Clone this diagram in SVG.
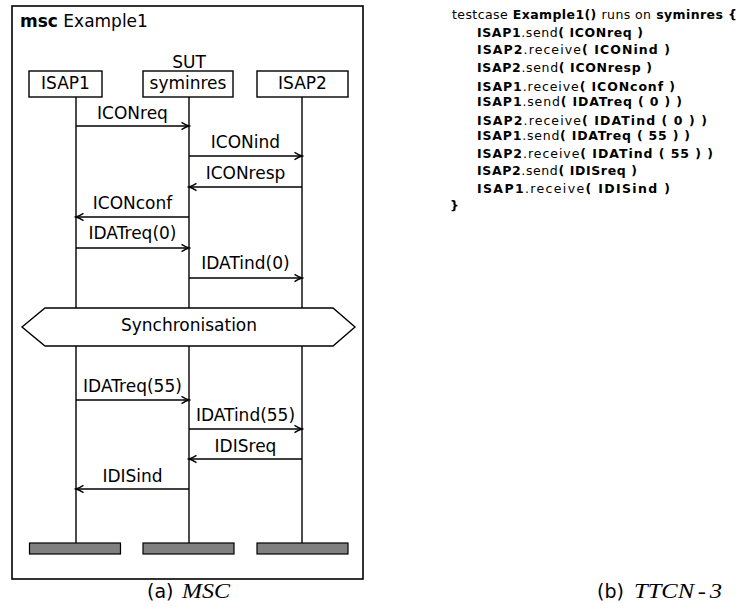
<svg xmlns="http://www.w3.org/2000/svg" width="739" height="614" viewBox="0 0 739 614">
<style>
.lbl{font-family:"DejaVu Sans",sans-serif;font-size:17px;fill:#000}
.mid{text-anchor:middle}
.ln{stroke:#000;stroke-width:1.4;fill:none}
.box{stroke:#000;stroke-width:1.4;fill:#fff}
.bar{stroke:#000;stroke-width:1.2;fill:#808080}
.msg{stroke:#000;stroke-width:1.3;fill:none;marker-end:url(#arr)}
.tt{font-family:"DejaVu Sans",sans-serif;font-size:12.5px;font-weight:bold;fill:#000}
.n{font-weight:normal}
.cap{font-family:"DejaVu Sans",sans-serif;font-size:19px;fill:#000}
.math{font-family:"Liberation Serif",serif;font-style:italic;font-size:20px;fill:#000}
</style>
<defs>
<marker id="arr" markerUnits="userSpaceOnUse" markerWidth="12" markerHeight="10" viewBox="-9 -5 10 10" refX="0" refY="0" orient="auto">
<path d="M -7.5 -3.6 Q -3 -0.8 0 0 Q -3 0.8 -7.5 3.6" stroke="#000" stroke-width="1.3" fill="none"/>
</marker>
</defs>
<rect x="0" y="0" width="739" height="614" fill="#fff"/>

<g id="frame">
<rect x="12" y="6" width="351" height="573" fill="none" stroke="#000" stroke-width="1.6"/>
<text class="lbl" x="20" y="27" font-size="16"><tspan font-weight="bold">msc</tspan> Example1</text>
<text class="lbl mid" x="189" y="68">SUT</text>
</g>

<g id="ISAP1">
<line class="ln" x1="76" y1="97" x2="76" y2="543"/>
<rect class="box" x="29" y="71" width="73" height="26"/>
<text class="lbl mid" x="65.5" y="89">ISAP1</text>
<rect class="bar" x="29.5" y="543" width="91" height="11"/>
</g>

<g id="syminres">
<line class="ln" x1="189" y1="97" x2="189" y2="543"/>
<rect class="box" x="143" y="71" width="90" height="26"/>
<text class="lbl mid" x="188" y="89">syminres</text>
<rect class="bar" x="143" y="543" width="91" height="11"/>
</g>

<g id="ISAP2">
<line class="ln" x1="302" y1="97" x2="302" y2="543"/>
<rect class="box" x="257" y="71" width="91" height="26"/>
<text class="lbl mid" x="302.5" y="89">ISAP2</text>
<rect class="bar" x="257" y="543" width="91" height="11"/>
</g>

<g id="sync">
<polygon points="22,327 45,308 333,308 355,327 333,346 45,346" fill="#fff" stroke="#000" stroke-width="1.4"/>
<text class="lbl mid" x="189" y="331">Synchronisation</text>
</g>

<g id="connectors">
<line class="msg" x1="76" y1="126" x2="189" y2="126"/>
<text class="lbl mid" x="132.5" y="119">ICONreq</text>
<line class="msg" x1="189" y1="156" x2="302" y2="156"/>
<text class="lbl mid" x="245.5" y="148">ICONind</text>
<line class="msg" x1="302" y1="187" x2="189" y2="187"/>
<text class="lbl mid" x="245.5" y="179">ICONresp</text>
<line class="msg" x1="189" y1="217" x2="76" y2="217"/>
<text class="lbl mid" x="132.5" y="209">ICONconf</text>
<line class="msg" x1="76" y1="248" x2="189" y2="248"/>
<text class="lbl mid" x="132.5" y="239">IDATreq(0)</text>
<line class="msg" x1="189" y1="278" x2="302" y2="278"/>
<text class="lbl mid" x="245.5" y="269">IDATind(0)</text>
<line class="msg" x1="76" y1="400" x2="189" y2="400"/>
<text class="lbl mid" x="132.5" y="392">IDATreq(55)</text>
<line class="msg" x1="189" y1="429" x2="302" y2="429"/>
<text class="lbl mid" x="245.5" y="421">IDATind(55)</text>
<line class="msg" x1="302" y1="459" x2="189" y2="459"/>
<text class="lbl mid" x="245.5" y="452">IDISreq</text>
<line class="msg" x1="189" y1="489" x2="76" y2="489"/>
<text class="lbl mid" x="132.5" y="482">IDISind</text>
</g>

<g id="captionA">
<text class="cap" x="147" y="598">(a)</text>
<text class="math" x="182" y="598" textLength="48" lengthAdjust="spacingAndGlyphs">MSC</text>
</g>

<g id="ttcn">
<text class="tt" x="452" y="19" textLength="285"><tspan class="n">testcase</tspan> Example1() <tspan class="n">runs on</tspan> syminres {</text>
<text class="tt" x="477" y="37" textLength="166">ISAP1<tspan class="n">.send</tspan>( ICONreq )</text>
<text class="tt" x="477" y="54" textLength="193">ISAP2<tspan class="n">.receive</tspan>( ICONind )</text>
<text class="tt" x="477" y="72" textLength="175">ISAP2<tspan class="n">.send</tspan>( ICONresp )</text>
<text class="tt" x="477" y="91" textLength="198">ISAP1<tspan class="n">.receive</tspan>( ICONconf )</text>
<text class="tt" x="477" y="106" textLength="205">ISAP1<tspan class="n">.send</tspan>( IDATreq ( 0 ) )</text>
<text class="tt" x="477" y="125" textLength="230">ISAP2<tspan class="n">.receive</tspan>( IDATind ( 0 ) )</text>
<text class="tt" x="477" y="140" textLength="213">ISAP1<tspan class="n">.send</tspan>( IDATreq ( 55 ) )</text>
<text class="tt" x="477" y="158" textLength="236">ISAP2<tspan class="n">.receive</tspan>( IDATind ( 55 ) )</text>
<text class="tt" x="477" y="175" textLength="160">ISAP2<tspan class="n">.send</tspan>( IDISreq )</text>
<text class="tt" x="477" y="193" textLength="193">ISAP1<tspan class="n">.receive</tspan>( IDISind )</text>
<text class="tt" x="450" y="210">}</text>
</g>

<g id="captionB">
<text class="cap" x="597" y="598">(b)</text>
<text class="math" x="634" y="598" textLength="88" lengthAdjust="spacingAndGlyphs">TTCN<tspan dx="3">-</tspan><tspan dx="3">3</tspan></text>
</g>
</svg>
